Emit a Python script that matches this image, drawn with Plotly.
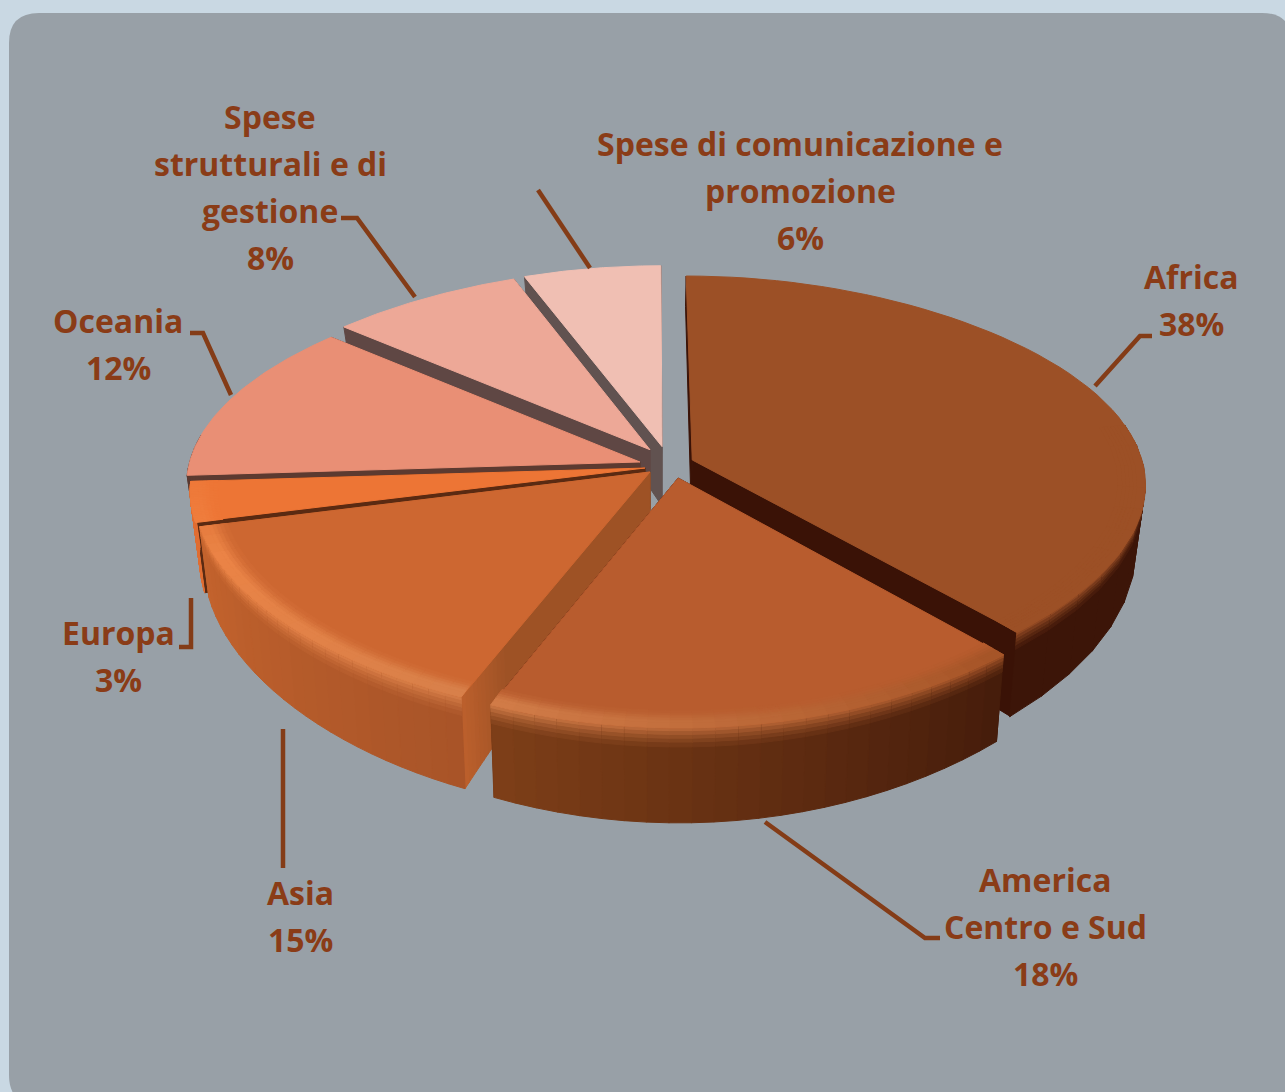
import math
import plotly.graph_objects as go

# ---- data ----
categories = ["Africa", "America Centro e Sud", "Asia", "Europa", "Oceania",
              "Spese strutturali e di gestione", "Spese di comunicazione e promozione"]
values = [38.2, 18.2, 14.6, 3.0, 12.2, 7.9, 5.9]
label_lines = [["Africa"], ["America", "Centro e Sud"], ["Asia"], ["Europa"], ["Oceania"],
               ["Spese", "strutturali e di", "gestione"], ["Spese di comunicazione e", "promozione"]]

# ---- styling, kept apart from the data ----
top_colors = ["#9c5026", "#b85c2e", "#cd6731", "#ed7535", "#e98f75", "#eda897", "#f0bfb3"]
cut_colors = ["#3a1206", "#3a1206", "#9e5225", "#5a2a12", "#5c3a30", "#5f4744", "#615250"]
cut_outer = ["#3a1206", "#3a1206", "#bb5f2c", "#5a2a12", "#5c3a30", "#5f4744", "#615250"]
wall_start = ["#3c1508", "#451c0b", "#a85428", "#e06e33", "#5c3a30", "#5f4744", "#615250"]
wall_end = ["#3c1508", "#7e3f18", "#c4632d", "#e06e33", "#5c3a30", "#5f4744", "#615250"]
glow_start = ["#9c5026", "#a55427", "#d8804a", "#f08040", None, None, None]
glow_end = ["#9c5026", "#d27c48", "#ee8445", "#f08040", None, None, None]
pull_u = [0.0828, 0.0510, -0.0112, -0.0223, -0.0335, -0.0112, 0.0158]
pull_v = [-0.0240, 0.0612, 0.0331, 0.0143, -0.0143, -0.0732, -0.0882]
LABEL_COLOR = "#8a3c17"
LINE_COLOR = "#843c17"

label_x = [1191, 1045, 300, 118, 118, 270, 800]
label_y = [276, 879, 892, 632, 320, 116, 143]
LINE_H = 47
leader_x = [[1152, 1140, 1095], [765, 925, 940], [283, 283], [179, 191, 191],
            [190, 203, 231], [341, 357, 415], [538, 590]]
leader_y = [[336, 336, 386], [822, 938, 938], [729, 868], [647, 647, 598],
            [333, 333, 395], [218, 218, 297], [190, 268]]

# ---- projection of the tilted pie ----
CX, CY, R, RK, PX, PY, T = 655, 465, 451, 211, 0.12, 0.14, 62


def project(u, v, z=0.0):
    sx = (1 - 0.06 * v * v) / (1 - PX * v)
    sy = 1 / (1 - PY * v)
    return CX + R * u * sx * (1 - 0.02 * z), CY + RK * v * sy + T * z * (1 + 0.5 * v)


def point(i, angle, r=1.0, z=0.0):
    return project(pull_u[i] + r * math.sin(angle), pull_v[i] - r * math.cos(angle), z)


def hex_rgb(c):
    return tuple(int(c[k:k + 2], 16) for k in (1, 3, 5))


def mix(a, b, t):
    ra, rb = hex_rgb(a), hex_rgb(b)
    return "#%02x%02x%02x" % tuple(round(x + (y - x) * t) for x, y in zip(ra, rb))


fig = go.Figure()


def poly(points, color, name=None):
    xs = [p[0] for p in points] + [points[0][0]]
    ys = [p[1] for p in points] + [points[0][1]]
    fig.add_trace(go.Scatter(x=xs, y=ys, mode="lines", fill="toself", fillcolor=color,
                             line=dict(color=color, width=1), showlegend=False,
                             hoverinfo="text" if name else "skip", text=name, hoveron="fills"))


total = sum(values)
edges = [0.0]
for val in values:
    edges.append(edges[-1] + val / total * 2 * math.pi)

order = [6, 5, 4, 3, 2, 0, 1]  # back to front
N_ARC = 60
N_STRIP = 24
R_STEPS = [(0.95, 0.12), (0.958, 0.3), (0.966, 0.55), (0.974, 0.8), (0.982, 1.0), (1.0, 1.0)]
Z_STEPS = [(0.0, 0.04, 0.15), (0.04, 0.08, 0.35), (0.08, 0.12, 0.55), (0.12, 0.16, 0.72), (0.16, 0.2, 0.88)]
for i in order:
    a0, a1 = edges[i], edges[i + 1]
    apex, apex_low = point(i, 0, 0), point(i, 0, 0, 1)
    # cut faces
    for a in (a1, a0):
        steps = 12 if cut_outer[i] != cut_colors[i] else 1
        for s in range(steps):
            if steps == 1:
                r0, r1, col = 0, 1, cut_colors[i]
            else:
                r0 = 0 if s == 0 else 0.78 + 0.22 * (s - 1) / (steps - 1)
                r1 = 0.78 + 0.22 * s / (steps - 1)
                col = mix(cut_colors[i], cut_outer[i], s / (steps - 1))
            poly([point(i, a, r0), point(i, a, r1), point(i, a, r1, 1), point(i, a, r0, 1)], col)
    # outer wall in strips, only where it faces the viewer
    strips = []
    for k in range(N_STRIP):
        b0 = a0 + (a1 - a0) * k / N_STRIP
        b1 = a0 + (a1 - a0) * (k + 1.02) / N_STRIP
        if math.cos((b0 + b1) / 2) <= 0.12:
            strips.append((b0, b1, (k + 0.5) / N_STRIP))
    for b0, b1, t in strips:
        wall = mix(wall_start[i], wall_end[i], t)
        poly([point(i, b0), point(i, b1), point(i, b1, 1, 1), point(i, b0, 1, 1)], wall)
        if glow_start[i]:
            glow = mix(glow_start[i], glow_end[i], t)
            for z0, z1, m in Z_STEPS:
                poly([point(i, b0, 1, z0), point(i, b1, 1, z0), point(i, b1, 1, z1), point(i, b0, 1, z1)],
                     mix(glow, wall, m))
    # top face
    arc = [point(i, a0 + (a1 - a0) * k / N_ARC) for k in range(N_ARC + 1)]
    poly([apex] + arc, top_colors[i], f"{categories[i]}: {round(values[i])}%")
    # soft bevel along the rim of the top face
    if glow_start[i]:
        for b0, b1, t in strips:
            glow = mix(glow_start[i], glow_end[i], t)
            fade = min(1.0, max(0.0, (0.12 - math.cos((b0 + b1) / 2)) / 0.5))
            prev = 0.94
            for r, m in R_STEPS:
                poly([point(i, b0, prev), point(i, b1, prev), point(i, b1, r), point(i, b0, r)],
                     mix(top_colors[i], glow, m * fade))
                prev = r

# leader lines
for lx, ly in zip(leader_x, leader_y):
    fig.add_trace(go.Scatter(x=lx, y=ly, mode="lines", showlegend=False, hoverinfo="skip",
                             line=dict(color=LINE_COLOR, width=4.5)))

# labels, one annotation per line for the wide line spacing
notes = []
for i, lines in enumerate(label_lines):
    for j, text in enumerate(lines + [f"{round(values[i])}%"]):
        notes.append(dict(x=label_x[i], y=label_y[i] + j * LINE_H, text=text, showarrow=False,
                          xanchor="center", yanchor="middle", xref="x", yref="y",
                          font=dict(family="Open Sans", size=32, color=LABEL_COLOR, weight="bold")))

fig.update_layout(
    width=1285, height=1092, margin=dict(l=0, r=0, t=0, b=0),
    paper_bgcolor="#c9d8e3", plot_bgcolor="rgba(0,0,0,0)", showlegend=False,
    xaxis=dict(range=[0, 1285], visible=False, fixedrange=True),
    yaxis=dict(range=[1092, 0], visible=False, fixedrange=True),
    annotations=notes,
    shapes=[dict(type="path", layer="below", xref="x", yref="y", line=dict(width=0),
                 fillcolor="#98a0a7",
                 path="M 39 13 L 1262 13 Q 1292 13 1292 43 L 1292 1075 Q 1292 1105 1262 1105 "
                      "L 39 1105 Q 9 1105 9 1075 L 9 43 Q 9 13 39 13 Z")],
)
fig.write_html("out.html", config={"displayModeBar": False},
               post_script="document.body.style.margin='0';document.body.style.background='#c9d8e3';")
